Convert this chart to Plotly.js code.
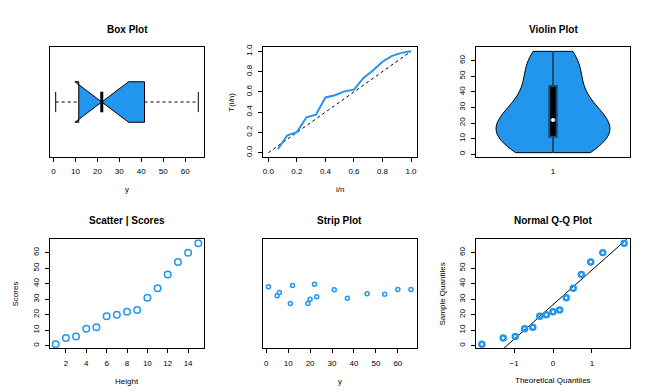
<!DOCTYPE html>
<html>
<head>
<meta charset="utf-8">
<script src="https://cdn.plot.ly/plotly-3.0.1.min.js"></script>
<style>
  html, body { margin: 0; padding: 0; background: #fff; }
  #chart { width: 648px; height: 392px; }
</style>
</head>
<body>
<div id="chart"></div>
<script>
// observations (sorted), shared by every panel
const yValues = [1, 5, 6, 11, 12, 19, 20, 22, 23, 31, 37, 46, 54, 60, 66];
const heightIndex = [1, 2, 3, 4, 5, 6, 7, 8, 9, 10, 11, 12, 13, 14, 15];

// TTT panel
const tttX = [0.067, 0.133, 0.2, 0.267, 0.333, 0.4, 0.467, 0.533, 0.6, 0.667, 0.733, 0.8, 0.867, 0.933, 1.0];
const tttY = [0.036, 0.172, 0.203, 0.349, 0.375, 0.545, 0.567, 0.605, 0.622, 0.738, 0.811, 0.898, 0.956, 0.985, 1.0];
const diagX = [0, 1];
const diagY = [0, 1];

// strip plot vertical jitter (fraction of panel height)
const stripJitter = [0.564, 0.482, 0.512, 0.412, 0.576, 0.412, 0.451, 0.588, 0.473, 0.537, 0.46, 0.5, 0.497, 0.54, 0.54];

// normal Q-Q theoretical quantiles
const qqTheo = [-1.83, -1.28, -0.97, -0.73, -0.52, -0.34, -0.17, 0, 0.17, 0.34, 0.52, 0.73, 0.97, 1.28, 1.83];

const BLUE = "#2196EC";
const FONT = "Liberation Sans, Arial, Helvetica, sans-serif";

function quantile(arr, p) {
  const s = [...arr].sort((a, b) => a - b);
  const h = (s.length - 1) * p;
  const lo = Math.floor(h);
  return s[lo] + (h - lo) * ((s[lo + 1] ?? s[lo]) - s[lo]);
}

const q1 = quantile(yValues, 0.25);
const med = quantile(yValues, 0.5);
const q3 = quantile(yValues, 0.75);
const yMin = Math.min(...yValues);
const yMax = Math.max(...yValues);
const notch = (1.58 * (q3 - q1)) / Math.sqrt(yValues.length);

const boxWidth = 0.4;
const notchFrac = 0.5;
const capHalf = boxWidth / 4;

// qqline through the quartiles
const zq = 0.6745;
const qqSlope = (q3 - q1) / (2 * zq);
const qqIntercept = q1 + qqSlope * zq;
const qqLineX = [-2.5, 2.5];
const qqLineY = qqLineX.map((v) => qqIntercept + qqSlope * v);

const traces = [
  // box plot
  {
    type: "box", orientation: "h", xaxis: "x", yaxis: "y",
    y: [1], q1: [q1], median: [med], q3: [q3],
    lowerfence: [q1], upperfence: [q3], notchspan: [notch],
    notched: true, notchwidth: notchFrac, width: boxWidth, whiskerwidth: 0,
    fillcolor: BLUE, line: { color: "#000", width: 1 }, hoverinfo: "skip",
  },
  {
    type: "scatter", mode: "lines", xaxis: "x", yaxis: "y",
    x: [yMin, q1, null, q3, yMax], y: [1, 1, null, 1, 1],
    line: { color: "#000", width: 1, dash: "3px,3px" },
  },
  {
    type: "scatter", mode: "lines", xaxis: "x", yaxis: "y",
    x: [yMin, yMin, null, yMax, yMax],
    y: [1 - capHalf, 1 + capHalf, null, 1 - capHalf, 1 + capHalf],
    line: { color: "#000", width: 1 },
  },
  {
    type: "scatter", mode: "lines", xaxis: "x", yaxis: "y",
    x: [med, med],
    y: [1 - (boxWidth * notchFrac) / 2, 1 + (boxWidth * notchFrac) / 2],
    line: { color: "#000", width: 3 },
  },
  // TTT
  {
    type: "scatter", mode: "lines", xaxis: "x2", yaxis: "y2",
    x: diagX, y: diagY, line: { color: "#000", width: 1, dash: "3px,3px" },
  },
  {
    type: "scatter", mode: "lines", xaxis: "x2", yaxis: "y2",
    x: tttX, y: tttY, line: { color: BLUE, width: 2 },
  },
  // violin
  {
    type: "violin", xaxis: "x3", yaxis: "y3",
    y: yValues, x0: 1, width: 0.74, bandwidth: 12,
    spanmode: "hard", scalemode: "width", points: false,
    fillcolor: BLUE, line: { color: "#000", width: 1 },
    box: { visible: true, width: 0.065, fillcolor: "#000", line: { color: "#1B4B72", width: 2 } },
    meanline: { visible: false }, hoverinfo: "skip",
  },
  {
    type: "scatter", mode: "markers", xaxis: "x3", yaxis: "y3",
    x: [1], y: [med], marker: { color: "#fff", size: 4 },
  },
  // scatter
  {
    type: "scatter", mode: "markers", xaxis: "x4", yaxis: "y4",
    x: heightIndex, y: yValues,
    marker: { symbol: "circle-open", size: 6.5, color: BLUE, line: { width: 1.5 } },
  },
  // strip
  {
    type: "scatter", mode: "markers", xaxis: "x5", yaxis: "y5",
    x: yValues, y: stripJitter,
    marker: { symbol: "circle-open", size: 4, color: BLUE, line: { width: 1.5 } },
  },
  // Q-Q
  {
    type: "scatter", mode: "lines", xaxis: "x6", yaxis: "y6",
    x: qqLineX, y: qqLineY, line: { color: "#000", width: 1 },
  },
  {
    type: "scatter", mode: "markers", xaxis: "x6", yaxis: "y6",
    x: qqTheo, y: yValues,
    marker: { symbol: "circle-open", size: 5, color: BLUE, line: { width: 2.5 } },
  },
];

const W = 648, H = 392;
const cols = [[50, 204], [262.7, 416.7], [476, 630]];
const rows = [[47.3, 156.7], [239.3, 348.3]];
const xd = (c) => [cols[c][0] / W, cols[c][1] / W];
const yd = (r) => [1 - rows[r][1] / H, 1 - rows[r][0] / H];

function axis(domain, anchor, extra) {
  return Object.assign({
    domain, anchor,
    showline: true, mirror: true, linecolor: "#000", linewidth: 1,
    ticks: "outside", ticklen: 4, tickcolor: "#000", tickwidth: 1,
    tickfont: { family: FONT, size: 8, color: "#000" },
    ticklabelstandoff: 3,
    showgrid: false, zeroline: false, fixedrange: true,
  }, extra);
}
const yTicks = { tickangle: -90 };
const blank = { ticks: "", showticklabels: false };

function text(t, x, y, opts = {}) {
  return Object.assign({
    text: t, x: x / W, y: 1 - y / H, xref: "paper", yref: "paper",
    showarrow: false, xanchor: "center", yanchor: "middle",
    font: { family: FONT, size: 8, color: "#000" },
  }, opts);
}
const bold = { font: { family: FONT, size: 10, color: "#000", weight: "bold" } };
const rot = { textangle: -90 };
const cx = (c) => (cols[c][0] + cols[c][1]) / 2;
const cy = (r) => (rows[r][0] + rows[r][1]) / 2;

const layout = {
  width: W, height: H,
  margin: { l: 0, r: 0, t: 0, b: 0 },
  paper_bgcolor: "#fff", plot_bgcolor: "#fff",
  showlegend: false,
  xaxis: axis(xd(0), "y", { range: [-1.6, 68.6], tick0: 0, dtick: 10 }),
  yaxis: axis(yd(0), "x", Object.assign({ range: [0.46, 1.54] }, blank)),
  xaxis2: axis(xd(1), "y2", { range: [-0.04, 1.04], tick0: 0, dtick: 0.2, tickformat: ".1f" }),
  yaxis2: axis(yd(0), "x2", Object.assign({ range: [-0.04, 1.04], tick0: 0, dtick: 0.2, tickformat: ".1f" }, yTicks)),
  xaxis3: axis(xd(2), "y3", { range: [0.5, 1.5], tickvals: [1], ticktext: ["1"], tickcolor: "rgba(0,0,0,0)" }),
  yaxis3: axis(yd(0), "x3", Object.assign({ range: [-1.6, 68.6], tick0: 0, dtick: 10 }, yTicks)),
  xaxis4: axis(xd(0), "y4", { range: [0.44, 15.56], tick0: 2, dtick: 2 }),
  yaxis4: axis(yd(1), "x4", Object.assign({ range: [-1.6, 68.6], tick0: 0, dtick: 10 }, yTicks)),
  xaxis5: axis(xd(1), "y5", { range: [-1.6, 68.6], tick0: 0, dtick: 10 }),
  yaxis5: axis(yd(1), "x5", Object.assign({ range: [0, 1] }, blank)),
  xaxis6: axis(xd(2), "y6", { range: [-1.98, 1.98], tick0: -1, dtick: 1 }),
  yaxis6: axis(yd(1), "x6", Object.assign({ range: [-1.6, 68.6], tick0: 0, dtick: 10 }, yTicks)),
  annotations: [
    text("Box Plot", cx(0), 29, bold),
    text("Violin Plot", cx(2), 29, bold),
    text("Scatter | Scores", cx(0), 220.7, bold),
    text("Strip Plot", cx(1), 220.7, bold),
    text("Normal Q-Q Plot", cx(2), 220.7, bold),
    text("y", cx(0), 189),
    text("i/n", cx(1), 189),
    text("T(i/n)", 230.7, cy(0), rot),
    text("Height", cx(0), 381),
    text("Scores", 15.7, cy(1), rot),
    text("y", cx(1), 381),
    text("Theoretical Quantiles", cx(2), 380.3),
    text("Sample Quantiles", 442.7, cy(1), rot),
  ],
};

Plotly.newPlot("chart", traces, layout, { staticPlot: true, displayModeBar: false });
</script>
</body>
</html>
